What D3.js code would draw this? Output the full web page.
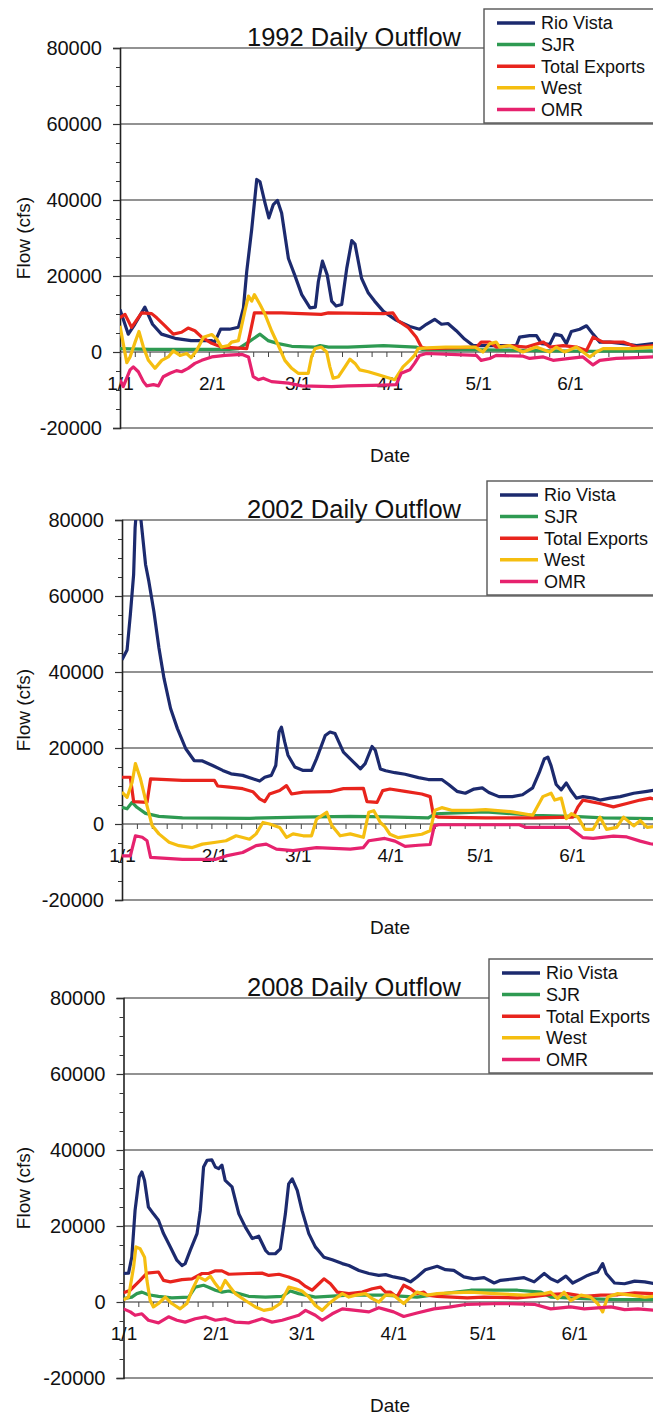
<!DOCTYPE html>
<html>
<head>
<meta charset="utf-8">
<script src="https://cdn.jsdelivr.net/npm/d3@7"></script>
<style>
body { margin: 0; background: #fff; }
svg { display: block; }
text { font-family: "Liberation Sans", Arial, sans-serif; fill: #111; }
</style>
</head>
<body>
<div id="chart"></div>
<script>
// values: [day of year (0 = Jan 1), flow cfs]
var rio1992 = [[0,11200],[2.8,4700],[5,7300],[8.4,11800],[11,7300],[14,4700],[18.6,3600],[24,3000],[31,3000],[32,2600],[34,6000],[37,6000],[40,6500],[41.7,11600],[42.8,21100],[44.5,32300],[46.2,45400],[47.3,44800],[49,39200],[50.3,35300],[51.8,38800],[53.2,39900],[54.6,36600],[56.9,24600],[59,20300],[61.4,15100],[64.2,11600],[66,11800],[67,18500],[68.4,23900],[70,20300],[71.5,13400],[73,12100],[74.9,12500],[76.6,22000],[78.3,29300],[79.4,28400],[81.6,19400],[83.9,15500],[86,13400],[89,10700],[93.3,8400],[97.9,6700],[101.2,6000],[103.5,7300],[106.3,8600],[108.6,7300],[110.8,7500],[113.6,5600],[116.4,3400],[119.3,1700],[122.6,1700],[133.9,1700],[135,3900],[138.4,4300],[140.7,4300],[142.4,2200],[145.2,2000],[146.9,4700],[149.1,4300],[150.8,2200],[152.5,5400],[155.3,6000],[157.6,6900],[159.8,4700],[162.1,2600],[165.5,2600],[170,2200],[174.5,1700],[180.1,2200]];
var sjr1992 = [[0,900],[10,700],[25,700],[37,700],[40,900],[43.4,2600],[47.3,4700],[50,3000],[53.5,2200],[58,1500],[66,1300],[67.6,1700],[70.4,1300],[77,1300],[89,1700],[100,1300],[102,700],[115,600],[130,500],[145,300],[160,200],[180,300]];
var exports1992 = [[0,9000],[1.7,9900],[3.9,6500],[7.3,10300],[10.7,10100],[12.4,9000],[15.2,6900],[18,4700],[20.8,5200],[23,6300],[25.3,5600],[27.6,3900],[31,2300],[34.3,1300],[38.9,1100],[42.8,900],[43.9,4700],[45.4,10300],[54.6,10300],[68,9900],[70.4,10300],[89,10100],[92.2,10300],[94,8200],[97.3,6500],[100.1,3900],[101.8,1300],[103.5,900],[120.4,1300],[122,2600],[124.9,2600],[127.1,1300],[131.6,1700],[137.3,1300],[141.2,2200],[143,2600],[145.2,1300],[149.7,1700],[154.2,1300],[157.6,400],[159.8,3900],[163.2,2600],[170,2600],[174.5,1300],[180.1,1700]];
var west1992 = [[0,6900],[1.1,2200],[2.3,-2800],[3.4,-1300],[5.1,2600],[6.4,5400],[7.9,1300],[9.6,-2200],[11.8,-4300],[14.1,-2200],[16.3,-1300],[18,300],[20.3,-900],[22.5,-400],[24,-1500],[25.9,400],[28.2,3900],[31,4600],[32.7,3400],[34.3,1300],[36.6,1700],[37.7,2600],[40,3000],[42.2,10800],[43.4,14700],[44.5,13400],[45.4,15100],[47.3,12500],[49,9900],[51.2,5600],[53.5,1700],[55.7,-2200],[58,-4300],[60.2,-5600],[63.6,-5600],[64.7,-1300],[65.9,900],[68,1300],[69.8,0],[70.9,-3900],[72,-6900],[73.8,-6500],[76,-3900],[77.7,-1900],[79.4,-3000],[81,-4700],[83.9,-5200],[87.3,-6000],[89.5,-6500],[92.8,-7300],[95.6,-3900],[97.9,-2200],[99.5,-900],[100.7,900],[103.5,1100],[110,1300],[120,1300],[122.6,0],[124.9,2200],[127.1,2600],[128.3,1300],[131.6,1700],[136.1,0],[140.6,1300],[145.2,0],[147.4,1300],[150.2,0],[154.2,1300],[158.7,-1300],[160.9,0],[163.2,900],[167.7,900],[173.3,900],[180.1,1300]];
var omr1992 = [[0,-7300],[1.1,-9100],[3.4,-4700],[4.5,-3900],[6.2,-5200],[7.9,-7800],[9,-8900],[11.3,-8600],[13,-8900],[14.6,-6500],[16.9,-5600],[19.1,-4900],[20.8,-5200],[23,-4300],[25.3,-3000],[27.6,-2200],[31,-1300],[35.5,-900],[41.1,-600],[43.4,-1300],[45,-6500],[46.7,-7300],[48.4,-6900],[51.2,-7800],[56.9,-8200],[61.4,-8900],[71.5,-9100],[77,-8900],[89,-8700],[93.3,-8600],[95,-5600],[97.9,-4700],[99.5,-3000],[101.2,-900],[103.5,-400],[120.4,-900],[122,-2200],[124.9,-1700],[127.1,-900],[136.2,-1100],[138.4,-1700],[143,-1300],[146.3,-2200],[151.9,-1700],[156.4,-1300],[159.8,-3400],[162.1,-2200],[167.7,-1700],[174.5,-1500],[180.1,-1300]];

var rio2002 = [[0,43200],[1.7,45800],[2.8,55100],[3.9,65600],[4.4,78000],[5,84000],[5.8,84000],[6.5,79000],[7.9,68300],[9,63900],[10.7,55900],[12.4,46300],[14.1,38300],[16.3,30400],[18.6,25100],[21.4,19800],[24.2,16700],[27,16600],[30.4,15400],[33.8,14100],[36.6,13200],[40.5,12800],[43.9,11900],[46.2,11300],[47.9,12300],[50.1,12800],[51.6,15400],[52.7,24200],[53.5,25500],[54.6,21600],[55.7,18100],[58,15000],[60.8,14100],[63.6,14100],[65.3,17200],[68.2,23300],[69.8,24200],[71.5,23800],[74.3,18900],[77.7,16300],[80,14500],[81.6,15900],[83.9,20400],[85,19400],[86.7,14500],[88.5,14000],[91.6,13500],[95,13100],[99.5,12200],[102.8,11700],[107.3,11700],[109.6,10400],[112.4,8600],[115.2,8100],[118.1,9200],[120.9,9500],[123.1,8300],[126.5,7200],[131,7200],[134.4,7700],[137.8,9500],[140,13500],[141.7,17100],[142.9,17600],[144,15300],[145.7,10400],[147.4,9000],[149.1,10800],[150.8,8600],[152.5,6800],[154.7,7200],[158.1,6800],[160.4,6300],[163.8,6800],[167.2,7200],[171.7,8100],[176.2,8600],[179.6,9000]];
var sjr2002 = [[0,4400],[1.7,4000],[3.4,5700],[5,4400],[7.9,2800],[12.4,2000],[20.3,1600],[42.8,1500],[59.7,1800],[76.6,2000],[89,1900],[102.8,1600],[105,2700],[122,3200],[137.8,2300],[151.3,2000],[161.5,1600],[179.6,1400]];
var exports2002 = [[0,12300],[2.8,12300],[3.9,5900],[8.4,5700],[9.6,11900],[20.3,11500],[31,11500],[32.1,10000],[36,9700],[40.5,9300],[43.9,8500],[46.2,6600],[47.9,5900],[49.5,7900],[52.9,8800],[55.2,10100],[56.9,7900],[60.8,8400],[69.8,8500],[74.3,9300],[81,9400],[82.2,5900],[85.6,5700],[87.5,8800],[89.9,9200],[95,8600],[100.6,7900],[103.4,7200],[104.5,2300],[106.2,1800],[122,1600],[138.9,1600],[151.3,1800],[153,4500],[154.7,6300],[160.4,5400],[164.9,4500],[169.4,5400],[173.9,6300],[177.3,6800],[179.6,6300]];
var west2002 = [[0,8400],[1.7,7000],[3.4,11000],[4.5,15900],[6.2,11900],[8.4,4800],[10.1,-400],[12.4,-2600],[15.8,-4800],[19.1,-5700],[23.6,-6200],[27,-5300],[31.5,-4800],[34.9,-4400],[38.3,-3100],[42.8,-4000],[45,-2600],[47.3,400],[49.5,0],[52.9,-900],[55.2,-3500],[57.4,-2600],[60.8,-3100],[63.6,-3100],[65.3,1300],[68.7,3100],[70.4,-400],[73.2,-3100],[76.6,-2600],[81,-3500],[82.8,3100],[84.5,3500],[86.7,400],[88.2,-700],[89.9,-2700],[92.7,-3600],[96.1,-3200],[100.6,-2700],[103.4,-1800],[105,3600],[107.3,4300],[110.6,3600],[117.4,3600],[122,3800],[131,3200],[137.8,2300],[141.2,7200],[144,8100],[145.2,6300],[147.4,6800],[149.1,1400],[150.8,2700],[153,1800],[155.3,-1400],[158.1,-1400],[160.4,1800],[162.6,-1400],[166,-900],[168.3,1800],[171.7,-500],[173.9,900],[176.2,-900],[179.6,-500]];
var omr2002 = [[0,-8400],[2.8,-8400],[4.5,-3100],[6.8,-3500],[8.4,-4400],[9.6,-8800],[20.3,-9300],[31.5,-9300],[34.9,-8400],[40.5,-7500],[45,-5700],[48.4,-5300],[51.8,-6600],[57.4,-7000],[65.3,-6200],[76.6,-6600],[81,-6200],[82.8,-4400],[88.2,-3800],[91.6,-4500],[95,-5900],[99.5,-5600],[103.4,-5400],[104.8,-500],[106.2,-200],[133.3,-200],[135.6,-900],[150.2,-900],[152.5,-2300],[154.7,-3600],[158.1,-3800],[164.9,-3200],[169.4,-3400],[173.9,-4500],[177.3,-5200],[179.6,-5400]];

var rio2008 = [[0,7500],[1.7,7600],[2.8,11800],[3.9,24100],[5.3,32900],[6.2,34200],[7.1,32000],[8.4,25000],[10.1,23200],[11.8,21500],[13.5,18000],[15.8,14500],[18,11000],[19.7,9600],[20.8,10100],[22.5,13600],[24.8,18000],[25.9,24100],[27,35500],[28.2,37300],[29.8,37400],[31,35500],[32.1,35100],[33.2,36000],[34.3,32000],[36.6,30300],[38.9,23200],[41.1,19700],[43.4,16700],[45.6,17300],[47.9,13600],[49,12700],[51.2,12700],[52.9,14000],[54.6,23200],[55.7,31100],[56.9,32400],[58.6,29400],[60.2,24100],[62.5,18000],[64.7,14500],[67.6,11800],[70.4,11100],[73.8,10100],[76,9600],[79.4,8300],[82.8,7500],[86.1,7000],[88.4,7200],[91.1,6600],[94.5,6100],[96.8,5300],[99,6600],[101.8,8500],[105.8,9400],[108.6,8500],[111.4,8300],[114.8,6600],[118.2,6100],[121.6,6400],[125,5000],[127.2,5700],[131.7,6100],[135.1,6400],[138.5,5300],[141.9,7500],[144.1,6100],[146.4,5300],[149.2,6800],[151.5,5000],[154.3,6100],[156.5,7000],[158.2,7500],[159.9,7900],[161.6,10100],[162.8,7500],[165.6,5000],[169,4800],[172.4,5500],[175.8,5300],[179.2,4800]];
var sjr2008 = [[0,900],[2.8,1300],[4.5,2200],[6.2,2600],[8.4,1900],[11.8,1500],[16.3,1100],[22,1300],[24.2,3900],[27,4400],[28.7,3900],[31,3100],[33.2,2600],[35.5,2900],[38.9,2200],[42.2,1500],[47.9,1300],[53.5,1500],[56.3,2900],[59.1,2200],[64.7,1300],[76,1800],[87.7,1800],[99,1300],[105.8,2000],[117.1,3100],[132.9,3100],[140.8,2600],[144.1,1300],[155.4,900],[166.7,600],[179.2,600]];
var exports2008 = [[0,2400],[2.3,3100],[3.9,4400],[5.6,5700],[7.9,7600],[11.8,7900],[13.5,5700],[15.8,5300],[19.7,5900],[23.1,6100],[26.5,7500],[28.7,7500],[31,8200],[33.2,8200],[35.5,7300],[42.2,7500],[46.7,7600],[49,7000],[52.4,7300],[55.7,6600],[59.1,5500],[61.4,4100],[63.6,3100],[65.9,4800],[67.6,6100],[69.8,4800],[72.1,2600],[76,2200],[80.5,2600],[83.9,3500],[86.7,3900],[88.4,2600],[90,2600],[92.2,1300],[94.5,4400],[96.8,3500],[99,2200],[101.3,2600],[102.4,1800],[105.8,1500],[115.9,1100],[121.6,1300],[132.9,1100],[138.5,1500],[144.1,2000],[149.7,2200],[155.4,1500],[161,1800],[166.7,1900],[172.4,2400],[179.2,2200]];
var west2008 = [[0,600],[1.7,1300],[3.4,9200],[4.2,14500],[5.6,14000],[7.1,11800],[7.9,5700],[9,400],[10.1,-1300],[11.8,-400],[14.1,1300],[16.3,-400],[19.1,-1800],[21.4,-400],[23.1,3100],[25.3,6600],[27.6,5700],[29.3,6800],[31,4800],[32.7,3100],[34.3,5700],[36,3900],[37.7,2200],[41.1,400],[44.5,-1300],[47.3,-2200],[50.1,-1800],[52.9,-400],[54.6,2200],[55.7,3900],[58,3500],[60.2,2900],[62.5,1300],[64.7,-900],[67,-2200],[69.3,-400],[71.5,900],[73.8,2200],[76,1300],[78.3,1800],[81.6,2200],[83.9,900],[86.1,0],[88.4,1800],[91.1,1800],[94.5,-400],[96.8,1300],[99,2600],[102.4,1800],[105.8,2200],[110.3,2400],[117.1,2600],[125,2200],[135.1,1800],[141.9,2200],[144.1,2600],[146.4,900],[148.6,2600],[150.8,400],[154.3,1800],[157.6,1300],[159.9,-400],[161.6,-2600],[163.3,1300],[166.7,2200],[171.2,1800],[175.8,1300],[179.2,1500]];
var omr2008 = [[0,-1800],[2.3,-2600],[3.9,-3500],[6.2,-3100],[8.4,-4800],[11.8,-5500],[15.2,-3900],[18,-4800],[20.8,-5300],[24.2,-4400],[27.6,-3900],[31,-4800],[34.3,-4400],[37.7,-5300],[42.2,-5500],[46.7,-4400],[50.1,-5300],[53.5,-4800],[59.1,-3500],[61.4,-2200],[64.7,-3500],[67,-4800],[70.4,-3100],[73.8,-1800],[78.3,-2200],[82.8,-2600],[86.1,-1500],[88.4,-2000],[91.1,-2600],[94.5,-3800],[99,-2900],[104.7,-1800],[110.3,-1300],[115.9,-600],[127.2,-400],[138.5,-600],[144.1,-1800],[150.8,-1300],[155.4,-1800],[164.4,-1300],[169,-2000],[173.5,-1800],[179.2,-2200]];

var years = [1992, 2002, 2008];
var seriesNames = ["Rio Vista", "SJR", "Total Exports", "West", "OMR"];
var yearSeries = [
    [rio1992, sjr1992, exports1992, west1992, omr1992],
    [rio2002, sjr2002, exports2002, west2002, omr2002],
    [rio2008, sjr2008, exports2008, west2008, omr2008]
];
var yMajorTicks = [-20000, 0, 20000, 40000, 60000, 80000];

// layout / style
var seriesColors = ["#1c2a6e", "#2e9a52", "#e8241d", "#f5be10", "#e6226e"];
var panelTop = [48, 520, 998];
var panelLeft = [120, 122, 123.5];
var pxPerDay = [2.96, 2.98, 2.965];
var legendLeft = [484, 487, 489];
var plotHeight = 380;
var viewWidth = 653;

var svg = d3.select("#chart")
    .append("svg")
    .attr("width", viewWidth)
    .attr("height", 1418);

years.forEach(function(year, k) {
    var top = panelTop[k];
    var left = panelLeft[k];
    var start = new Date(year, 0, 1);
    var end = new Date(year + 1, 0, 1);
    var nDays = d3.timeDay.count(start, end);
    var right = left + nDays * pxPerDay[k];

    var x = d3.scaleTime().domain([start, end]).range([left, right]);
    var y = d3.scaleLinear().domain([-20000, 80000]).range([top + plotHeight, top]);
    var dayToDate = function(d) { return new Date(start.getTime() + d * 864e5); };

    var g = svg.append("g").attr("class", "panel");

    g.append("clipPath").attr("id", "clip" + year)
        .append("rect")
        .attr("x", left).attr("y", top)
        .attr("width", right - left).attr("height", plotHeight);

    // horizontal gridlines (top and bottom included)
    g.append("g").selectAll("line")
        .data(yMajorTicks)
        .enter()
        .append("line")
        .attr("x1", left).attr("x2", right)
        .attr("y1", function(d) { return y(d); })
        .attr("y2", function(d) { return y(d); })
        .attr("stroke", "#6e6e6e")
        .attr("stroke-width", 1.3);

    // y axis: major labelled ticks + minor ticks every 5000
    var yMinor = d3.range(-20000, 80001, 5000).filter(function(v) { return v % 20000 !== 0; });
    var yAxisG = g.append("g")
        .attr("transform", "translate(" + left + ",0)")
        .call(d3.axisLeft(y).tickValues(yMajorTicks).tickSize(7).tickPadding(11)
            .tickFormat(function(d) { return String(d); }));
    yAxisG.select(".domain").attr("stroke", "#222").attr("stroke-width", 1.6);
    yAxisG.selectAll(".tick line").attr("stroke", "#333").attr("stroke-width", 1.2);
    yAxisG.selectAll("text").style("font-size", "20px").attr("fill", "#111");

    g.append("g")
        .attr("transform", "translate(" + left + ",0)")
        .call(d3.axisLeft(y).tickValues(yMinor).tickSize(4).tickFormat(""))
        .call(function(a) { a.select(".domain").remove(); })
        .selectAll(".tick line").attr("stroke", "#333").attr("stroke-width", 1);

    // x axis sits at 0: small ticks every 5 days, month labels below
    var smallTicks = d3.range(0, nDays, 5).map(dayToDate);
    g.append("g")
        .attr("transform", "translate(0," + y(0) + ")")
        .call(d3.axisBottom(x).tickValues(smallTicks).tickSize(5).tickFormat(""))
        .call(function(a) { a.select(".domain").remove(); })
        .selectAll(".tick line").attr("stroke", "#444").attr("stroke-width", 1);

    // only the months that fall inside the cropped picture get a label
    var months = d3.timeMonth.range(start, end).filter(function(d) { return x(d) + 20 < viewWidth; });
    g.append("g")
        .attr("transform", "translate(0," + y(0) + ")")
        .call(d3.axisBottom(x).tickValues(months).tickSize(0).tickPadding(25).tickFormat(d3.timeFormat("%-m/%-d")))
        .call(function(a) { a.select(".domain").remove(); })
        .selectAll("text").style("font-size", "19px").attr("fill", "#111");

    // data lines
    var line = d3.line()
        .x(function(d) { return x(dayToDate(d[0])); })
        .y(function(d) { return y(d[1]); });

    g.append("g")
        .attr("clip-path", "url(#clip" + year + ")")
        .selectAll("path")
        .data(yearSeries[k])
        .enter()
        .append("path")
        .attr("d", line)
        .attr("fill", "none")
        .attr("stroke", function(d, i) { return seriesColors[i]; })
        .attr("stroke-width", 3.2)
        .attr("stroke-linejoin", "round");

    // title
    g.append("text")
        .attr("x", 354)
        .attr("y", top - 2)
        .style("font-size", "25.5px")
        .style("text-anchor", "middle")
        .text(year + " Daily Outflow");

    // axis titles
    g.append("text")
        .attr("transform", "translate(30," + (top + plotHeight / 2) + ") rotate(-90)")
        .style("font-size", "19px")
        .style("text-anchor", "middle")
        .text("Flow (cfs)");

    g.append("text")
        .attr("x", 390)
        .attr("y", top + 414)
        .style("font-size", "19px")
        .style("text-anchor", "middle")
        .text("Date");

    // legend box (runs off the right edge like the cropped original)
    var lx = legendLeft[k];
    var ly = top - 39;
    var legend = g.append("g").attr("transform", "translate(" + lx + "," + ly + ")");
    legend.append("rect")
        .attr("width", 200)
        .attr("height", 114)
        .attr("fill", "#fff")
        .attr("stroke", "#555")
        .attr("stroke-width", 1.4);
    var rows = legend.selectAll(".legendRow")
        .data(seriesNames)
        .enter()
        .append("g")
        .attr("class", "legendRow")
        .attr("transform", function(d, i) { return "translate(0," + (14 + i * 21.6) + ")"; });
    rows.append("line")
        .attr("x1", 13).attr("x2", 51)
        .attr("stroke", function(d, i) { return seriesColors[i]; })
        .attr("stroke-width", 3.5);
    rows.append("text")
        .attr("x", 57)
        .attr("dy", "0.35em")
        .style("font-size", "18px")
        .text(function(d) { return d; });
});
</script>
</body>
</html>
